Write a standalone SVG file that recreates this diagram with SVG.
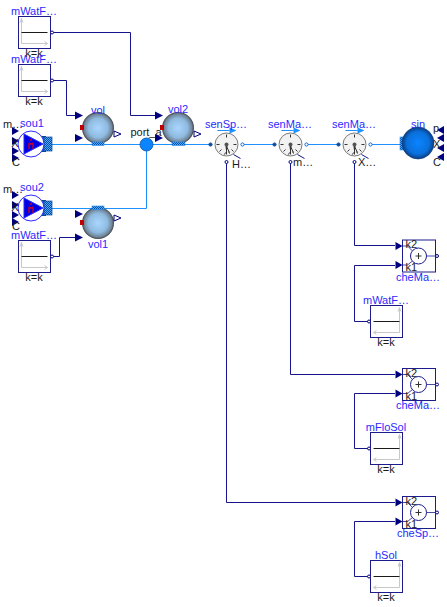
<svg xmlns="http://www.w3.org/2000/svg" width="447" height="607" viewBox="0 0 447 607">
<style>
text{font-family:"Liberation Sans",Arial,sans-serif;font-size:11px}
.n{fill:#2a2aff;text-anchor:middle}
.b{fill:#1a1a1a;text-anchor:middle}
.s{fill:#1a1a1a}
.bl{fill:none;stroke:#14148c;stroke-width:1}
.fl{fill:none;stroke:#1e90ff;stroke-width:1}
.arr{fill:#00007f}
</style>
<defs>
<radialGradient id="vg" cx="50%" cy="50%" r="50%"><stop offset="0" stop-color="#a9d6ff"/><stop offset=".6" stop-color="#90bbe0"/><stop offset=".88" stop-color="#6f8396"/><stop offset="1" stop-color="#3c4044"/></radialGradient>
<radialGradient id="sg" cx="50%" cy="50%" r="50%"><stop offset="0" stop-color="#0a84ff"/><stop offset=".7" stop-color="#0a70dc"/><stop offset="1" stop-color="#0a3c80"/></radialGradient>
<linearGradient id="pg" x1="0" y1="0" x2="0" y2="1"><stop offset="0" stop-color="#0a3f8a"/><stop offset=".5" stop-color="#1c86e8"/><stop offset="1" stop-color="#0a3f8a"/></linearGradient>
<pattern id="ck" width="2" height="2" patternUnits="userSpaceOnUse"><rect width="2" height="2" fill="#4fa8ff"/><rect width="1" height="1" fill="#0a4f9f"/><rect x="1" y="1" width="1" height="1" fill="#0a4f9f"/></pattern>
<g id="const"><rect width="32" height="32" fill="#fff" stroke="#1c1c8c" stroke-width="1"/>
<path d="M3 27H29M26 25l3 2-3 2M3 27V2M1.500 6L3 2l1.500 4" fill="none" stroke="#c8c8c8" stroke-width="1"/>
<path d="M3 16H29" stroke="#1a1a1a" stroke-width="1"/></g>
<g id="constL"><rect width="32" height="32" fill="#fff" stroke="#1c1c8c" stroke-width="1"/>
<path d="M29 27H3M6 25l-3 2 3 2M29 27V2M27.500 6L29 2l1.500 4" fill="none" stroke="#c8c8c8" stroke-width="1"/>
<path d="M3 16H29" stroke="#1a1a1a" stroke-width="1"/></g>
<path id="ah" d="M0-4L8 0 0 4Z" class="arr"/>
<g id="add"><rect width="33" height="32" fill="#fff" stroke="#1c1c8c" stroke-width="1"/>
<path d="M0 6H5L10 11M0 25H5L10 21" fill="none" stroke="#1c1c8c" stroke-width=".8"/>
<circle cx="16" cy="16" r="8" fill="#fff" stroke="#1c1c8c" stroke-width="1"/>
<path d="M13 16H19M16 13V19" stroke="#333" stroke-width="1"/>
<path d="M24 16H33" stroke="#1c1c8c" stroke-width=".8"/>
<path d="M-7 2L0 6-7 10ZM-7 21L0 25-7 29Z" class="arr"/>
<circle cx="34.500" cy="16" r="1.500" fill="#fff" stroke="#00007f"/>
<text x="3" y="8" class="s">k2</text><text x="3" y="31" class="s">k1</text></g>
<g id="sen"><circle r="11.500" fill="#f2f2f2" stroke="#7a7a7a" stroke-width="1"/>
<path d="M-10 0H-7M10 0H7M-7 7L-5 5M7 7L5 5M0 -10V-7M-2 10L-1 8M3 9L2 7" stroke="#333" stroke-width="1" fill="none"/>
<path d="M-1.500-1V0L0 9 1.500 0V-1Z" fill="#777"/><circle r="2" fill="#555"/>
<path d="M0 2L3 8" stroke="#333"/><path d="M0 2V10" stroke="#333"/>
<path d="M7 10L14 14" stroke="#14148c" fill="none"/>
<circle cx="-16" cy="0" r="1.600" fill="#0a4f9f" stroke="#0a4f9f"/><circle cx="16" cy="0" r="1.600" fill="#fff" stroke="#0a6fd8"/>
<path d="M-9-14H3" stroke="#1e90ff" stroke-width="1"/><path d="M3-17L10-14 3-11Z" fill="#1e90ff"/>
<circle cy="17.500" r="1.500" fill="#fff" stroke="#00007f"/></g>
<g id="pump"><rect x="11" y="-8" width="4" height="16" fill="url(#pg)"/><rect x="13" y="-7" width="8" height="14" fill="url(#ck)" stroke="#0a4f9f" stroke-width=".7"/>
<circle r="13" fill="#fff" stroke="#2a2aff" stroke-width="1"/><path d="M-7-10L12 0-7 10Z" fill="#0000e0" stroke="#2a2aff"/>
<path d="M-2-1V5M2-1V5M-2-1Q0 1 2-1" fill="none" stroke="#d00020" stroke-width="1.300"/><circle cy="-4" r="1" fill="#d00020"/>
<path d="M-19-17l7 4-7 4ZM-19-7l7 4-7 4ZM-19 3l7 4-7 4ZM-19 10l7 4-7 4Z" class="arr"/></g>
</defs>

<g id="connectors">
<path class="bl" d="M53.500 32.500H130.500V115.500H155"/>
<path class="bl" d="M53.500 80.500H66.500V115.500H75"/>
<path class="bl" d="M53.500 256.500H59.500V237.500H75"/>
<path class="bl" d="M226.500 163V502.500H395"/>
<path class="bl" d="M290.500 163V374.500H395"/>
<path class="bl" d="M354.500 163V245.500H395"/>
<path class="bl" d="M368 321.500H354.500V265.500H395"/>
<path class="bl" d="M368 448.500H354.500V393.500H395"/>
<path class="bl" d="M368 576.500H354.500V521.500H395"/>
<path class="fl" d="M52 144.500H210M242 144.500H274M306 144.500H338M370 144.500H402"/>
<path class="fl" d="M52 208.500H146.500V144.500"/>
</g>

<g id="mWatFlo1"><use href="#const" x="18.500" y="16.500"/><circle cx="52" cy="32.500" r="1.500" fill="#fff" stroke="#00007f"/><text x="34" y="15" class="n">mWatF…</text><text x="34" y="57" class="b">k=k</text></g>
<g id="mWatFlo2"><use href="#const" x="18.500" y="64.500"/><circle cx="52" cy="80.500" r="1.500" fill="#fff" stroke="#00007f"/><text x="34" y="63" class="n">mWatF…</text><text x="34" y="105" class="b">k=k</text></g>
<g id="mWatFlo3"><use href="#const" x="18.500" y="240.500"/><circle cx="52" cy="256.500" r="1.500" fill="#fff" stroke="#00007f"/><text x="34" y="239" class="n">mWatF…</text><text x="34" y="281" class="b">k=k</text></g>

<g id="sou1"><use href="#pump" x="31" y="144"/><text x="32" y="127" class="n">sou1</text><text x="13" y="128" class="b">m…</text><text x="15" y="147" class="b">X</text><text x="16" y="166" class="b">C</text></g>
<g id="sou2"><use href="#pump" x="31" y="208"/><text x="32" y="191" class="n">sou2</text><text x="13" y="193" class="b">m…</text><text x="15" y="211" class="b">X</text><text x="16" y="230" class="b">C</text></g>

<g id="vol"><use href="#ah" x="75" y="115.500"/><use href="#ah" x="75" y="138"/><circle cx="98" cy="128" r="16" fill="url(#vg)"/><rect x="80" y="125" width="4" height="5" fill="#c00000"/><rect x="92" y="142" width="12" height="3.500" fill="url(#ck)" stroke="#1e90ff" stroke-width=".6"/><path d="M114 131L121 134 114 137Z" fill="#fff" stroke="#00007f"/><text x="98" y="114" class="n">vol</text></g>
<g id="vol1"><use href="#ah" x="75" y="214"/><use href="#ah" x="75" y="237.500"/><circle cx="98" cy="223" r="16" fill="url(#vg)"/><rect x="80" y="220" width="4" height="5" fill="#c00000"/><rect x="92" y="206" width="12" height="3.500" fill="url(#ck)" stroke="#1e90ff" stroke-width=".6"/><path d="M114 215L121 218 114 221Z" fill="#fff" stroke="#00007f"/><text x="98" y="248" class="n">vol1</text></g>
<g id="port_a"><circle cx="146.500" cy="144.500" r="6.500" fill="#0a84ff" stroke="#0a4f9f" stroke-width=".8"/><text x="146" y="136" class="b">port_a</text></g>
<g id="vol2"><use href="#ah" x="155" y="115.500"/><use href="#ah" x="155" y="138"/><circle cx="178" cy="128" r="16" fill="url(#vg)"/><rect x="160" y="125" width="4" height="5" fill="#c00000"/><rect x="172" y="142" width="13" height="3.500" fill="url(#ck)" stroke="#1e90ff" stroke-width=".6"/><path d="M194 131L201 134 194 137Z" fill="#fff" stroke="#00007f"/><text x="178" y="113" class="n">vol2</text></g>

<g id="senSpe"><use href="#sen" x="226.500" y="144.500"/><text x="226" y="128" class="n">senSp…</text><text x="232" y="168" class="s">H…</text></g>
<g id="senMas1"><use href="#sen" x="290.500" y="144.500"/><text x="290" y="128" class="n">senMa…</text><text x="293" y="166" class="s">m…</text></g>
<g id="senMas2"><use href="#sen" x="354.500" y="144.500"/><text x="354" y="128" class="n">senMa…</text><text x="358" y="166" class="s">X…</text></g>

<g id="sin"><rect x="400" y="137" width="4" height="13" fill="url(#ck)" stroke="#1e90ff" stroke-width=".6"/><circle cx="418" cy="143" r="16" fill="url(#sg)" stroke="#0a3c80" stroke-width=".6"/><path d="M444 126l-7 4 7 4ZM444 134l-7 4 7 4ZM444 144l-7 4 7 4ZM444 153l-7 4 7 4Z" class="arr"/><text x="433" y="132" class="s">p</text><text x="433" y="148" class="s">X</text><text x="433" y="166" class="s">C</text><text x="418" y="128" class="n">sin</text></g>

<g id="cheMas1"><use href="#add" x="402.500" y="240"/><text x="418" y="281" class="n">cheMa…</text></g>
<g id="cheMas2"><use href="#add" x="402.500" y="368.500"/><text x="418" y="409" class="n">cheMa…</text></g>
<g id="cheSpe"><use href="#add" x="402.500" y="496.500"/><text x="418" y="537" class="n">cheSp…</text></g>

<g id="mWatFlo4"><use href="#constL" x="370.500" y="305.500"/><circle cx="369" cy="321.500" r="1.500" fill="#fff" stroke="#00007f"/><text x="386" y="304" class="n">mWatF…</text><text x="386" y="346" class="b">k=k</text></g>
<g id="mFloSol"><use href="#constL" x="370.500" y="432.500"/><circle cx="369" cy="448.500" r="1.500" fill="#fff" stroke="#00007f"/><text x="386" y="431" class="n">mFloSol</text><text x="386" y="473" class="b">k=k</text></g>
<g id="hSol"><use href="#constL" x="370.500" y="560.500"/><circle cx="369" cy="576.500" r="1.500" fill="#fff" stroke="#00007f"/><text x="386" y="559" class="n">hSol</text><text x="386" y="601" class="b">k=k</text></g>
</svg>
